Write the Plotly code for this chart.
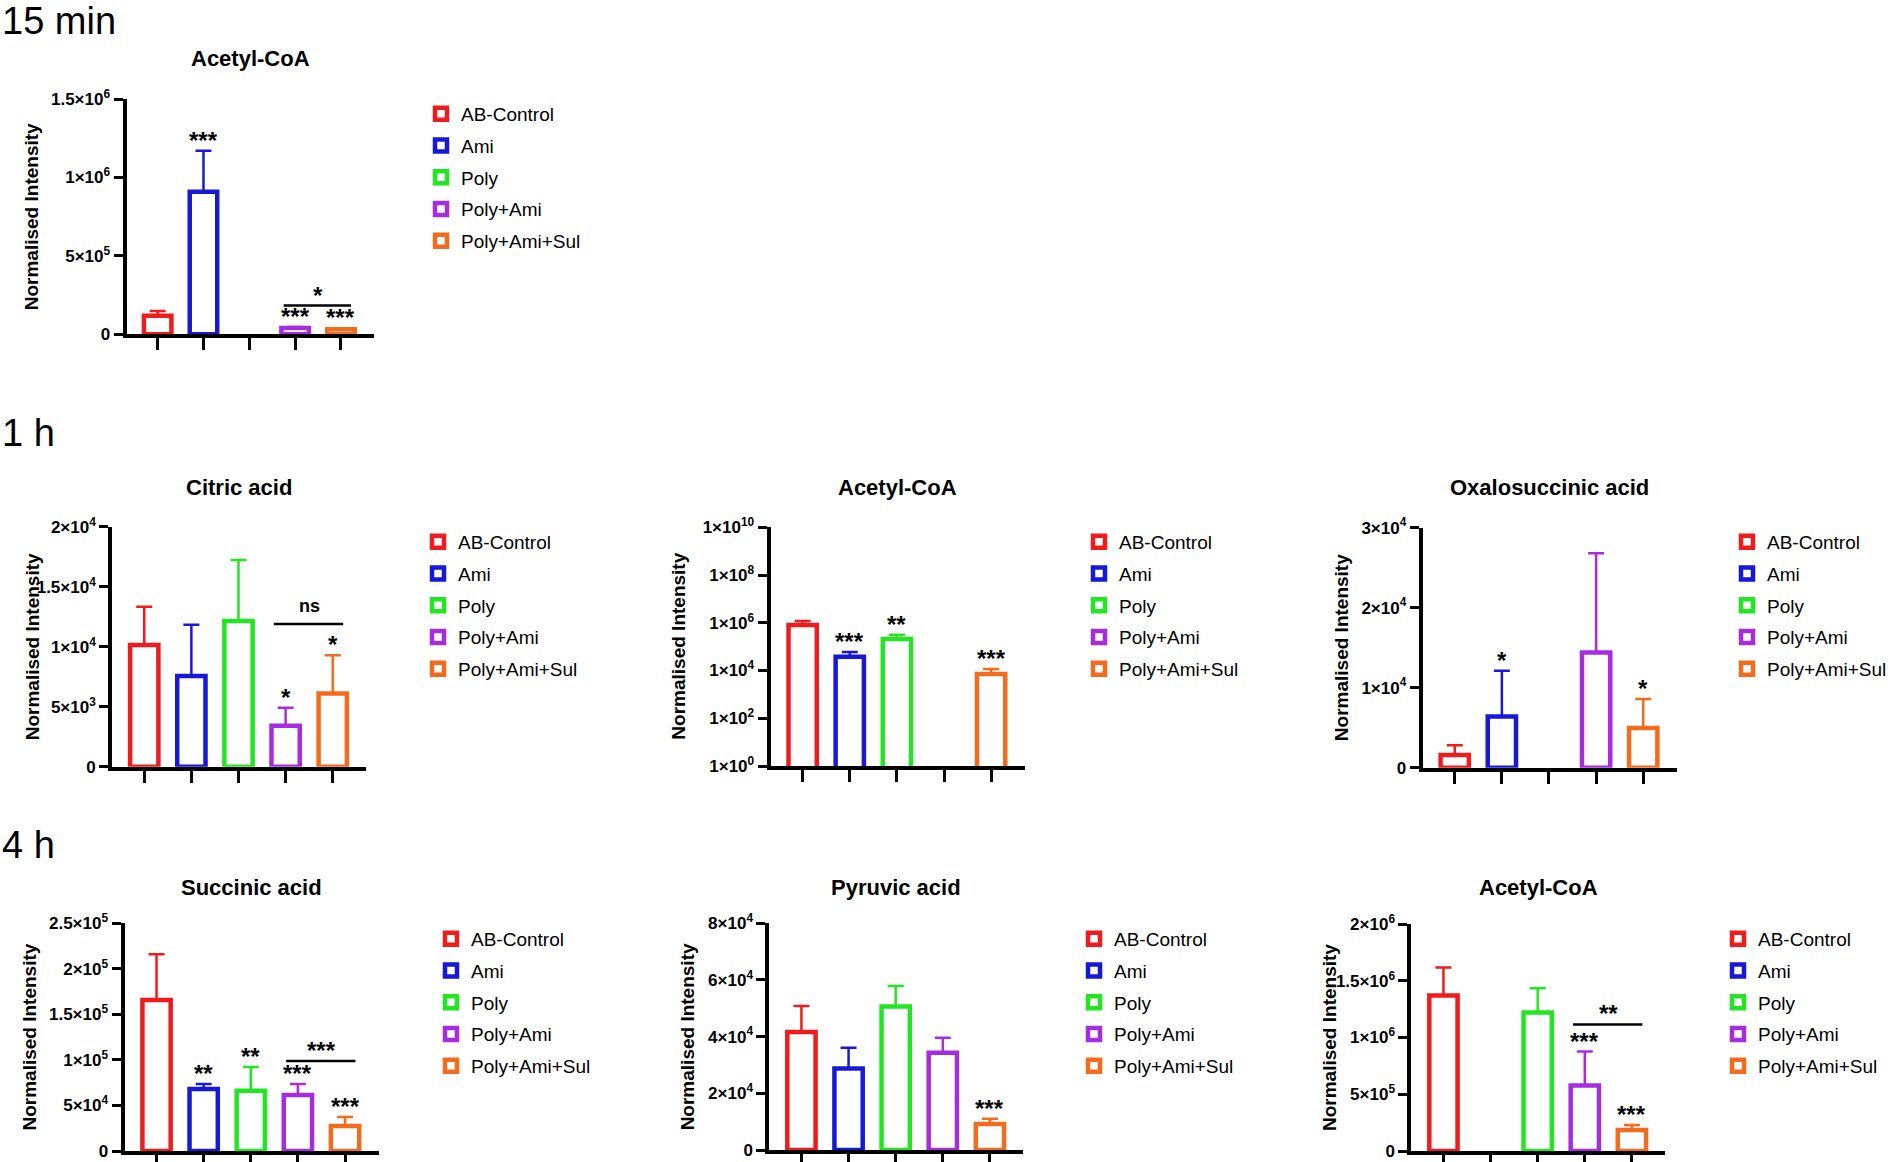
import math
import plotly.graph_objects as go

W, H = 1892, 1162

groups = ["AB-Control", "Ami", "Poly", "Poly+Ami", "Poly+Ami+Sul"]
colors = ["#ee1c1c", "#1818d8", "#22e622", "#a62ce0", "#f36b1c"]

# 15 min
acetyl_15min = [1.19e5, 9.08e5, None, 4.0e4, 3.2e4]
acetyl_15min_sd = [0.30e5, 2.62e5, None, 0.7e4, 0.6e4]
acetyl_15min_stars = ["", "***", "", "***", "***"]

# 1 h
citric_1h = [1.014e4, 0.756e4, 1.214e4, 0.342e4, 0.611e4]
citric_1h_sd = [0.319e4, 0.427e4, 0.508e4, 0.150e4, 0.317e4]
citric_1h_stars = ["", "", "", "*", "*"]

acetyl_1h = [8.07e5, 3.8e4, 2.09e5, None, 7.15e3]
acetyl_1h_sd = [3.73e5, 2.17e4, 1.08e5, None, 4.35e3]
acetyl_1h_stars = ["", "***", "**", "", "***"]

oxalo_1h = [1.59e3, 6.4e3, None, 1.44e4, 4.96e3]
oxalo_1h_sd = [1.2e3, 5.7e3, None, 1.24e4, 3.61e3]
oxalo_1h_stars = ["", "*", "", "", "*"]

# 4 h
succinic_4h = [1.658e5, 0.681e5, 0.662e5, 0.615e5, 0.274e5]
succinic_4h_sd = [0.502e5, 0.055e5, 0.26e5, 0.121e5, 0.099e5]
succinic_4h_stars = ["", "**", "**", "***", "***"]

pyruvic_4h = [4.16e4, 2.88e4, 5.06e4, 3.43e4, 0.92e4]
pyruvic_4h_sd = [0.92e4, 0.73e4, 0.73e4, 0.53e4, 0.18e4]
pyruvic_4h_stars = ["", "", "", "", "***"]

acetyl_4h = [1.37e6, None, 1.221e6, 5.77e5, 1.84e5]
acetyl_4h_sd = [2.46e5, None, 2.13e5, 2.99e5, 0.44e5]
acetyl_4h_stars = ["", "", "", "***", "***"]

# tick labels
ticks_a = [0, 5e5, 1e6, 1.5e6]
labels_a = ["0", "5×10<sup>5</sup>", "1×10<sup>6</sup>", "1.5×10<sup>6</sup>"]
ticks_b = [0, 5e3, 1e4, 1.5e4, 2e4]
labels_b = ["0", "5×10<sup>3</sup>", "1×10<sup>4</sup>", "1.5×10<sup>4</sup>", "2×10<sup>4</sup>"]
ticks_c = [1, 1e2, 1e4, 1e6, 1e8, 1e10]
labels_c = ["1×10<sup>0</sup>", "1×10<sup>2</sup>", "1×10<sup>4</sup>", "1×10<sup>6</sup>",
            "1×10<sup>8</sup>", "1×10<sup>10</sup>"]
ticks_d = [0, 1e4, 2e4, 3e4]
labels_d = ["0", "1×10<sup>4</sup>", "2×10<sup>4</sup>", "3×10<sup>4</sup>"]
ticks_e = [0, 5e4, 1e5, 1.5e5, 2e5, 2.5e5]
labels_e = ["0", "5×10<sup>4</sup>", "1×10<sup>5</sup>", "1.5×10<sup>5</sup>", "2×10<sup>5</sup>",
            "2.5×10<sup>5</sup>"]
ticks_f = [0, 2e4, 4e4, 6e4, 8e4]
labels_f = ["0", "2×10<sup>4</sup>", "4×10<sup>4</sup>", "6×10<sup>4</sup>", "8×10<sup>4</sup>"]
ticks_g = [0, 5e5, 1e6, 1.5e6, 2e6]
labels_g = ["0", "5×10<sup>5</sup>", "1×10<sup>6</sup>", "1.5×10<sup>6</sup>", "2×10<sup>6</sup>"]

sections = [("15 min", 21), ("1 h", 433), ("4 h", 845)]

# box = (left px, top px, bottom px, width px), legend = (text start px, first row px)
panels = [
    dict(title="Acetyl-CoA", mean=acetyl_15min, sd=acetyl_15min_sd, stars=acetyl_15min_stars,
         ticks=ticks_a, labels=labels_a, log=False, bracket=(3, 4, 1.83e5, "*"),
         box=(126.5, 99, 334.3, 247), legend=(461, 115), ytitle=31.6, ty=59),
    dict(title="Citric acid", mean=citric_1h, sd=citric_1h_sd, stars=citric_1h_stars,
         ticks=ticks_b, labels=labels_b, log=False, bracket=(3, 4, 1.19e4, "ns"),
         box=(112.2, 526.7, 766.7, 254), legend=(458, 543), ytitle=32.6, ty=487),
    dict(title="Acetyl-CoA", mean=acetyl_1h, sd=acetyl_1h_sd, stars=acetyl_1h_stars,
         ticks=ticks_c, labels=labels_c, log=True, bracket=None,
         box=(770.6, 527.3, 766, 254), legend=(1119, 543), ytitle=679, ty=487),
    dict(title="Oxalosuccinic acid", mean=oxalo_1h, sd=oxalo_1h_sd, stars=oxalo_1h_stars,
         ticks=ticks_d, labels=labels_d, log=False, bracket=None,
         box=(1422.7, 527.6, 767.7, 254), legend=(1767, 543), ytitle=1341.5, ty=487),
    dict(title="Succinic acid", mean=succinic_4h, sd=succinic_4h_sd, stars=succinic_4h_stars,
         ticks=ticks_e, labels=labels_e, log=False, bracket=(3, 4, 9.88e4, "***"),
         box=(124.5, 923.3, 1151, 254), legend=(471, 940), ytitle=29.4, ty=887),
    dict(title="Pyruvic acid", mean=pyruvic_4h, sd=pyruvic_4h_sd, stars=pyruvic_4h_stars,
         ticks=ticks_f, labels=labels_f, log=False, bracket=None,
         box=(769.4, 923.3, 1150, 254), legend=(1114, 940), ytitle=687.7, ty=887),
    dict(title="Acetyl-CoA", mean=acetyl_4h, sd=acetyl_4h_sd, stars=acetyl_4h_stars,
         ticks=ticks_g, labels=labels_g, log=False, bracket=(3, 4, 1.115e6, "**"),
         box=(1411.4, 924, 1151, 254), legend=(1758, 940), ytitle=1329.5, ty=887),
]

fig = go.Figure()
layout = {}
annotations = []
shapes = []

for i, p in enumerate(panels, start=1):
    sfx = "" if i == 1 else str(i)
    xa, ya, lg = "x" + sfx, "y" + sfx, "legend" + sfx
    left, top, bottom, width = p["box"]

    for j, g in enumerate(groups):
        m = p["mean"][j]
        s = p["sd"][j]
        fig.add_trace(go.Bar(
            x=[j], y=[m], name=g, xaxis=xa, yaxis=ya, legend=lg,
            legendgroup=f"{i}-{j}", width=0.6,
            marker=dict(color="white", line=dict(color=colors[j], width=4.5)),
            error_y=dict(type="data", symmetric=False, array=[s], arrayminus=[0],
                         color=colors[j], thickness=2.5, width=8),
            hoverinfo="skip",
        ))
        if p["stars"][j]:
            t = m + s
            annotations.append(dict(
                x=j, y=math.log10(t) if p["log"] else t, xref=xa, yref=ya,
                text=p["stars"][j], showarrow=False, xanchor="center", yanchor="bottom",
                yshift=-5, font=dict(size=24, weight="bold")))

    if p["bracket"]:
        a, b, yb, lab = p["bracket"]
        shapes.append(dict(type="line", xref=xa, yref=ya, x0=a - 0.25, x1=b + 0.22,
                           y0=yb, y1=yb, line=dict(color="black", width=2.5)))
        annotations.append(dict(
            x=(a + b) / 2, y=yb, xref=xa, yref=ya, text=lab, showarrow=False,
            xanchor="center", yanchor="bottom", yshift=6 if lab == "ns" else -5,
            font=dict(size=18 if lab == "ns" else 24, weight="bold")))

    layout["xaxis" + sfx] = dict(
        domain=[left / W, (left + width) / W], range=[-0.68, 4.71], anchor=ya,
        showline=True, linecolor="black", linewidth=4, ticks="outside", ticklen=12,
        tickwidth=3, tickcolor="black", tickvals=list(range(5)), showticklabels=False,
        showgrid=False, zeroline=False, fixedrange=True, automargin=False)
    layout["yaxis" + sfx] = dict(
        domain=[1 - bottom / H, 1 - top / H], anchor=xa,
        type="log" if p["log"] else "linear",
        range=[0, 10] if p["log"] else [0, p["ticks"][-1]],
        showline=True, linecolor="black", linewidth=4, ticks="outside", ticklen=9,
        tickwidth=3, tickcolor="black", tickvals=p["ticks"], ticktext=p["labels"],
        tickfont=dict(size=17, weight="bold"), showgrid=False, zeroline=False,
        fixedrange=True, automargin=False)
    lx, ly = p["legend"]
    layout[lg] = dict(x=(lx - 40) / W, y=1 - (ly - 20) / H, xanchor="left", yanchor="top",
                      font=dict(size=19), tracegroupgap=4, bgcolor="rgba(0,0,0,0)")

    annotations.append(dict(
        x=(left + width / 2) / W, y=1 - p["ty"] / H, xref="paper", yref="paper",
        xanchor="center", yanchor="middle",
        text=p["title"], showarrow=False, font=dict(size=22, weight="bold")))
    annotations.append(dict(
        x=p["ytitle"] / W, y=1 - (top + bottom) / 2 / H, xref="paper", yref="paper",
        xanchor="center", yanchor="middle",
        text="Normalised Intensity", textangle=-90, showarrow=False,
        font=dict(size=19, weight="bold")))

for label, yy in sections:
    annotations.append(dict(
        x=0, y=1 - yy / H, xref="paper", yref="paper", xanchor="left", yanchor="middle",
        text=label, showarrow=False, font=dict(size=38)))

fig.update_layout(
    width=W, height=H, margin=dict(l=0, r=0, t=0, b=0, autoexpand=False),
    paper_bgcolor="white", plot_bgcolor="white", barmode="overlay",
    font=dict(family="Liberation Sans, Arial, sans-serif", color="black"),
    annotations=annotations, shapes=shapes, **layout)

fig.write_html("out.html", config={"displayModeBar": False},
               post_script="document.body.style.margin='0';")
